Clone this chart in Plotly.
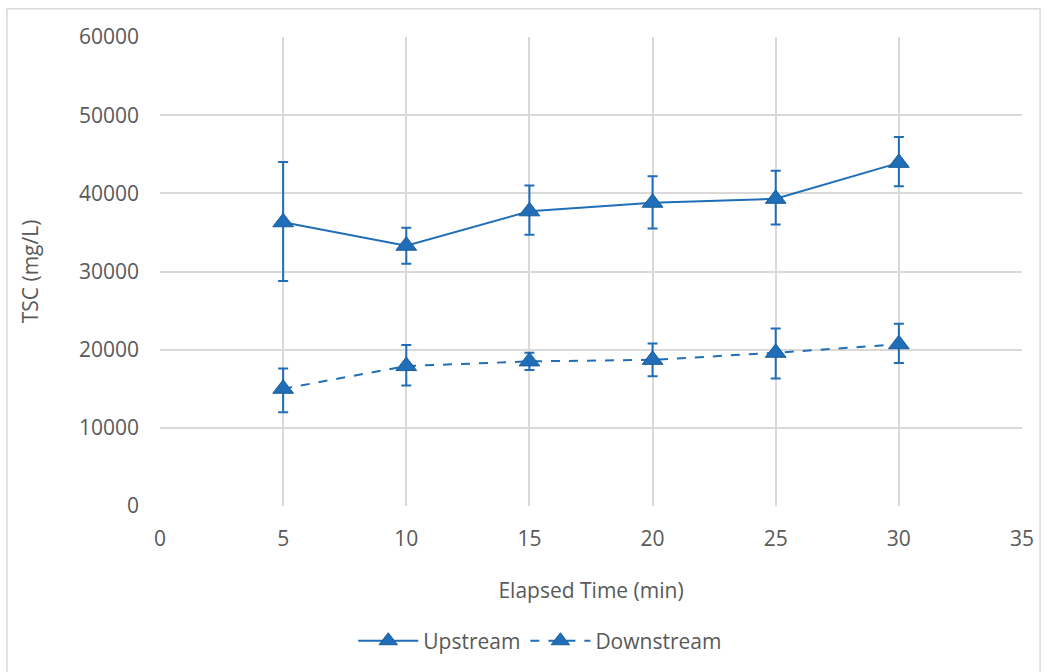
import plotly.graph_objects as go

time_min = [5, 10, 15, 20, 25, 30]
upstream = [36300, 33300, 37700, 38800, 39300, 43900]
upstream_err_plus = [7700, 2300, 3300, 3400, 3600, 3300]
upstream_err_minus = [7500, 2300, 3000, 3300, 3300, 3000]
downstream = [15000, 17900, 18500, 18700, 19600, 20700]
downstream_err_plus = [2600, 2700, 1100, 2100, 3100, 2600]
downstream_err_minus = [3000, 2500, 1100, 2100, 3300, 2400]

x_ticks = [0, 5, 10, 15, 20, 25, 30, 35]
y_ticks = [0, 10000, 20000, 30000, 40000, 50000, 60000]

blue = "#1F6EB7"
marker_line = "#1A5C9A"
grey_text = "#595959"
grid = "#D9D9D9"
font_family = "Open Sans, Liberation Sans, sans-serif"

fig = go.Figure()
fig.add_trace(go.Scatter(
    x=time_min, y=upstream, name="Upstream", mode="lines+markers",
    line=dict(color=blue, width=2),
    marker=dict(symbol="triangle-up", size=18, color=blue, line=dict(color=marker_line, width=1)),
    error_y=dict(type="data", symmetric=False, array=upstream_err_plus,
                 arrayminus=upstream_err_minus, color=blue, thickness=2, width=5),
))
fig.add_trace(go.Scatter(
    x=time_min, y=downstream, name="Downstream", mode="lines+markers",
    line=dict(color=blue, width=2, dash="dash"),
    marker=dict(symbol="triangle-up", size=18, color=blue, line=dict(color=marker_line, width=1)),
    error_y=dict(type="data", symmetric=False, array=downstream_err_plus,
                 arrayminus=downstream_err_minus, color=blue, thickness=2, width=5),
))

fig.update_layout(
    width=1049, height=672,
    margin=dict(l=160, r=27, t=37, b=166),
    paper_bgcolor="white", plot_bgcolor="white",
    font=dict(family=font_family, size=21, color=grey_text),
    showlegend=True,
    legend=dict(orientation="h", x=0.515, xanchor="center", xref="container",
                y=0.046, yanchor="middle", yref="container",
                font=dict(size=21, color=grey_text), itemwidth=60),
    shapes=[dict(type="rect", xref="paper", yref="paper",
                 x0=-0.1775, x1=1.021, y0=-0.36, y1=1.06,
                 line=dict(color="#D9D9D9", width=1.5))],
)
fig.update_xaxes(
    range=[0, 35], tickvals=x_ticks, ticktext=[str(v) for v in x_ticks],
    showgrid=True, gridcolor=grid, gridwidth=2, zeroline=False,
    showline=False, ticks="", ticklabelstandoff=18,
    tickfont=dict(size=21, color=grey_text),
    title=dict(text="Elapsed Time (min)", font=dict(size=21, color=grey_text), standoff=32),
)
fig.update_yaxes(
    range=[0, 60000], tickvals=y_ticks, ticktext=[str(v) for v in y_ticks],
    showgrid=True, gridcolor=grid, gridwidth=2, zeroline=False,
    showline=False, ticks="", ticklabelstandoff=20,
    tickfont=dict(size=21, color=grey_text),
    title=dict(text="TSC (mg/L)", font=dict(size=21, color=grey_text), standoff=34),
)

fig.write_html("out.html")
